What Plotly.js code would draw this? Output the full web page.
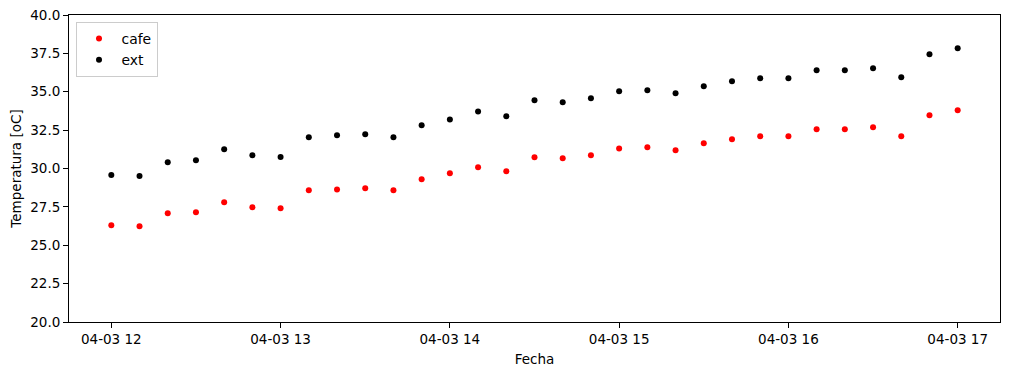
<!DOCTYPE html>
<html>
<head>
<meta charset="utf-8">
<script src="https://cdn.plot.ly/plotly-3.0.1.min.js"></script>
<style>html,body{margin:0;padding:0;background:#fff;}#chart{width:1009px;height:376px;}</style>
</head>
<body>
<div id="chart"></div>
<script>
const fecha = [
  "2024-04-03 12:00","2024-04-03 12:10","2024-04-03 12:20","2024-04-03 12:30","2024-04-03 12:40","2024-04-03 12:50",
  "2024-04-03 13:00","2024-04-03 13:10","2024-04-03 13:20","2024-04-03 13:30","2024-04-03 13:40","2024-04-03 13:50",
  "2024-04-03 14:00","2024-04-03 14:10","2024-04-03 14:20","2024-04-03 14:30","2024-04-03 14:40","2024-04-03 14:50",
  "2024-04-03 15:00","2024-04-03 15:10","2024-04-03 15:20","2024-04-03 15:30","2024-04-03 15:40","2024-04-03 15:50",
  "2024-04-03 16:00","2024-04-03 16:10","2024-04-03 16:20","2024-04-03 16:30","2024-04-03 16:40","2024-04-03 16:50",
  "2024-04-03 17:00"
];
const cafe = [26.30,26.23,27.08,27.15,27.80,27.47,27.41,28.58,28.64,28.71,28.58,29.30,29.69,30.08,29.82,30.73,
  30.66,30.86,31.31,31.38,31.19,31.64,31.90,32.10,32.10,32.55,32.55,32.68,32.10,33.47,33.79];
const ext = [29.58,29.51,30.40,30.53,31.25,30.86,30.75,32.03,32.16,32.23,32.03,32.81,33.20,33.72,33.40,34.44,
  34.31,34.57,35.03,35.09,34.90,35.36,35.68,35.88,35.88,36.40,36.40,36.53,35.94,37.44,37.83];
const xTicks = ["2024-04-03 12:00","2024-04-03 13:00","2024-04-03 14:00","2024-04-03 15:00","2024-04-03 16:00","2024-04-03 17:00"];
const xTickLabels = ["04-03 12","04-03 13","04-03 14","04-03 15","04-03 16","04-03 17"];
const yTicks = [20.0,22.5,25.0,27.5,30.0,32.5,35.0,37.5,40.0];

const font = {family: "DejaVu Sans", size: 13.5, color: "#000"};
const traces = [
  {x: fecha, y: cafe, name: "cafe", type: "scatter", mode: "markers", marker: {color: "red", size: 6}},
  {x: fecha, y: ext, name: "ext", type: "scatter", mode: "markers", marker: {color: "black", size: 6}}
];
const layout = {
  width: 1009, height: 376,
  margin: {l: 69, r: 9, t: 15, b: 54, pad: 0},
  paper_bgcolor: "#fff", plot_bgcolor: "#fff",
  font: font,
  showlegend: true,
  legend: {x: 0.007, y: 0.977, xanchor: "left", yanchor: "top", bgcolor: "rgba(255,255,255,0.8)",
    bordercolor: "#cccccc", borderwidth: 1, font: {family: "DejaVu Sans", size: 13.9, color: "#000"},
    itemwidth: 35},
  xaxis: {
    type: "date", range: ["2024-04-03 11:45", "2024-04-03 17:15"],
    tickvals: xTicks, ticktext: xTickLabels,
    showgrid: false, zeroline: false,
    showline: true, linecolor: "#000", linewidth: 1, mirror: true,
    ticks: "outside", ticklen: 5, tickcolor: "#000", tickwidth: 1,
    tickfont: font,
    title: {text: "Fecha", font: font, standoff: 8}
  },
  yaxis: {
    range: [20, 40], tickvals: yTicks, ticktext: yTicks.map(v => v.toFixed(1)),
    showgrid: false, zeroline: false,
    showline: true, linecolor: "#000", linewidth: 1, mirror: true,
    ticks: "outside", ticklen: 5, tickcolor: "#000", tickwidth: 1,
    tickfont: font,
    title: {text: "Temperatura [oC]", font: font, standoff: 5}
  }
};
Plotly.newPlot("chart", traces, layout, {displayModeBar: false, staticPlot: true});
</script>
</body>
</html>
